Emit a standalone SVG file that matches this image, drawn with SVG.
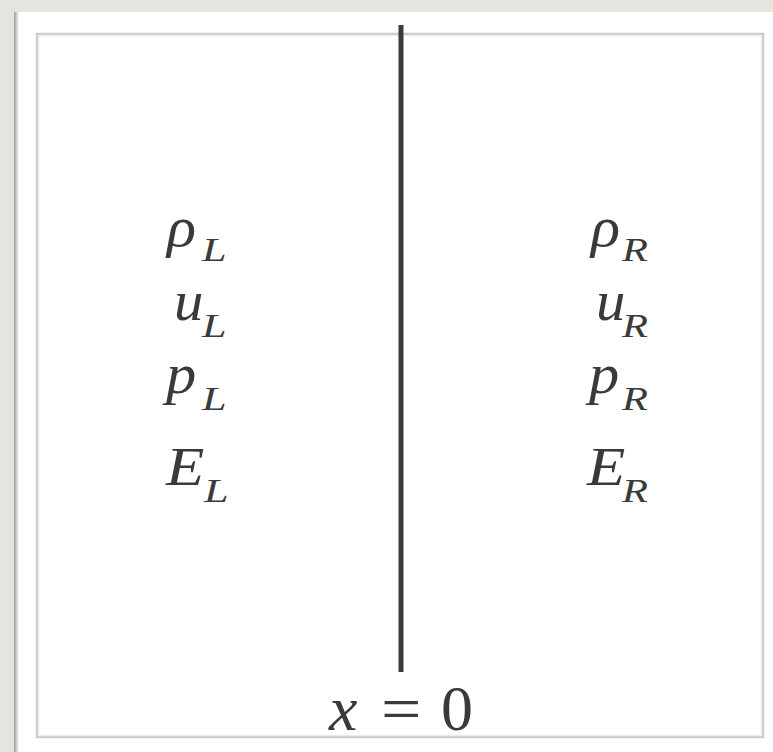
<svg xmlns="http://www.w3.org/2000/svg" width="773" height="752" viewBox="0 0 773 752">
  <defs>
    <linearGradient id="shadowL" x1="0" y1="0" x2="1" y2="0">
      <stop offset="0" stop-color="#9a9a98"/>
      <stop offset="1" stop-color="#ffffff"/>
    </linearGradient>
    <style>
      text { fill: #3a3a3a; }
    </style>
  </defs>
  <!-- background -->
  <rect x="0" y="0" width="773" height="752" fill="#e6e4e0"/>
  <!-- page -->
  <rect x="14" y="12" width="759" height="740" fill="#ffffff"/>
  <rect x="14" y="12" width="5" height="740" fill="url(#shadowL)"/>
  <!-- inner frame -->
  <rect x="37" y="34" width="726" height="703" fill="#ffffff" stroke="#cbcbcb" stroke-width="2.5"/>
  <rect x="38.5" y="35.5" width="723" height="700" fill="none" stroke="#ececec" stroke-width="1.5"/>

  <g id="connectors">
    <line x1="401" y1="25" x2="401" y2="672" stroke="#3b3b3b" stroke-width="5"/>
  </g>

  <g id="left-state" font-family="Liberation Serif" font-style="italic">
    <text font-size="56" transform="translate(167,246) scale(1.08,1)">ρ</text>
    <text font-size="34" transform="translate(202,261) scale(1.3,1)">L</text>
    <text font-size="56" transform="translate(174,320) scale(1.05,1)">u</text>
    <text font-size="34" transform="translate(202,337) scale(1.3,1)">L</text>
    <text font-size="56" transform="translate(166,393) scale(1.08,1)">p</text>
    <text font-size="34" transform="translate(202,410) scale(1.3,1)">L</text>
    <text font-size="56" transform="translate(166,485) scale(1.12,1)">E</text>
    <text font-size="34" transform="translate(204,502) scale(1.3,1)">L</text>
  </g>

  <g id="right-state" font-family="Liberation Serif" font-style="italic">
    <text font-size="56" transform="translate(591,246) scale(1.08,1)">ρ</text>
    <text font-size="34" transform="translate(622,261) scale(1.25,1)">R</text>
    <text font-size="56" transform="translate(596,320) scale(1.05,1)">u</text>
    <text font-size="34" transform="translate(622,337) scale(1.25,1)">R</text>
    <text font-size="56" transform="translate(589,393) scale(1.08,1)">p</text>
    <text font-size="34" transform="translate(622,410) scale(1.25,1)">R</text>
    <text font-size="56" transform="translate(587,485) scale(1.12,1)">E</text>
    <text font-size="34" transform="translate(622,502) scale(1.25,1)">R</text>
  </g>

  <g id="interface-label" font-family="Liberation Serif" font-size="64">
    <text font-style="italic" x="329" y="730">x</text>
    <text transform="translate(381,730) scale(1.12,1)">=</text>
    <text x="441" y="730">0</text>
  </g>
</svg>
